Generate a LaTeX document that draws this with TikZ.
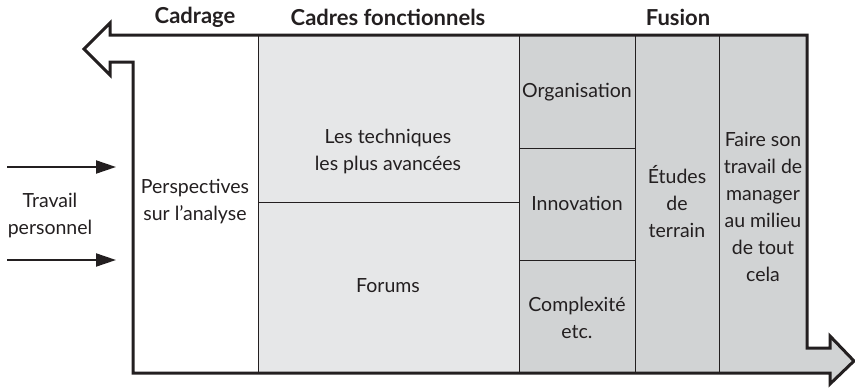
\documentclass[tikz,border=0pt]{standalone}
\usepackage{fontspec}
\setmainfont{Lato}
\usetikzlibrary{arrows.meta,positioning}
\definecolor{paleGrey}{RGB}{230,231,232}
\definecolor{midGrey}{RGB}{209,211,212}
\definecolor{inkGrey}{RGB}{35,31,32}
\tikzset{
  divider/.style={draw=inkGrey, line width=1pt},
  outline/.style={draw=inkGrey, line width=3pt, line join=miter},
  heading/.style={font=\bfseries\fontsize{22}{24}\selectfont, text=inkGrey},
  celltext/.style={align=center, font=\fontsize{19.5}{27}\selectfont, text=inkGrey},
  feed/.style={draw=inkGrey, line width=2pt, -{Triangle[length=20pt,width=13pt]}}
}
\begin{document}
\begin{tikzpicture}[x=1pt,y=-1pt]
\useasboundingbox (0,0) rectangle (855,388);

% fonds des colonnes
\fill[white] (110,35) rectangle (807,373);
\fill[paleGrey] (258,35) rectangle (519,373);
\fill[midGrey] (519,35) rectangle (807,373);
\fill[midGrey] (807,348) -- (830,348) -- (830,336) -- (854,361)
               -- (830,384) -- (830,373) -- (807,373) -- cycle;

% separations
\draw[divider] (258,35) -- (258,373);
\draw[divider] (519,35) -- (519,373);
\draw[divider] (635,35) -- (635,373);
\draw[divider] (719,35) -- (719,373);
\draw[divider] (258,202) -- (519,202);
\draw[divider] (519,148) -- (635,148);
\draw[divider] (519,260) -- (635,260);

% contour avec les deux fleches
\draw[outline] (133,373) -- (830,373) -- (830,384) -- (854,361) -- (830,336)
  -- (830,348) -- (807,348) -- (807,35) -- (110,35) -- (110,23) -- (84,49)
  -- (110,75) -- (110,62) -- (133,62) -- cycle;

% titres
\node[heading] (cadrage) at (195,17) {Cadrage};
\node[heading] (cadres) at (388,17) {Cadres fonctionnels};
\node[heading] (fusion) at (678,17) {Fusion};

% entree
\node[celltext] (travail) at (50,215) {Travail\\personnel};
\coordinate (in1) at (7,167);
\coordinate (in1end) at (116,167);
\coordinate (in2) at (7,260);
\coordinate (in2end) at (116,260);
\draw[feed] (in1) -- (in1end);
\draw[feed] (in2) -- (in2end);

% cases
\node[celltext] (perspectives) at (195,202) {Perspectives\\sur l’analyse};
\node[celltext] (techniques) at (388,151) {Les techniques\\les plus avancées};
\node[celltext] (forums) at (388,286) {Forums};
\node[celltext] (organisation) at (577,92) {Organisation};
\node[celltext] (innovation) at (577,203) {Innovation};
\node[celltext] (complexite) at (577,318) {Complexité\\etc.};
\node[celltext] (etudes) at (677,202) {Études\\de\\terrain};
\node[celltext] (faire) at (763,207) {Faire son\\travail de\\manager\\au milieu\\de tout\\cela};
\end{tikzpicture}
\end{document}
